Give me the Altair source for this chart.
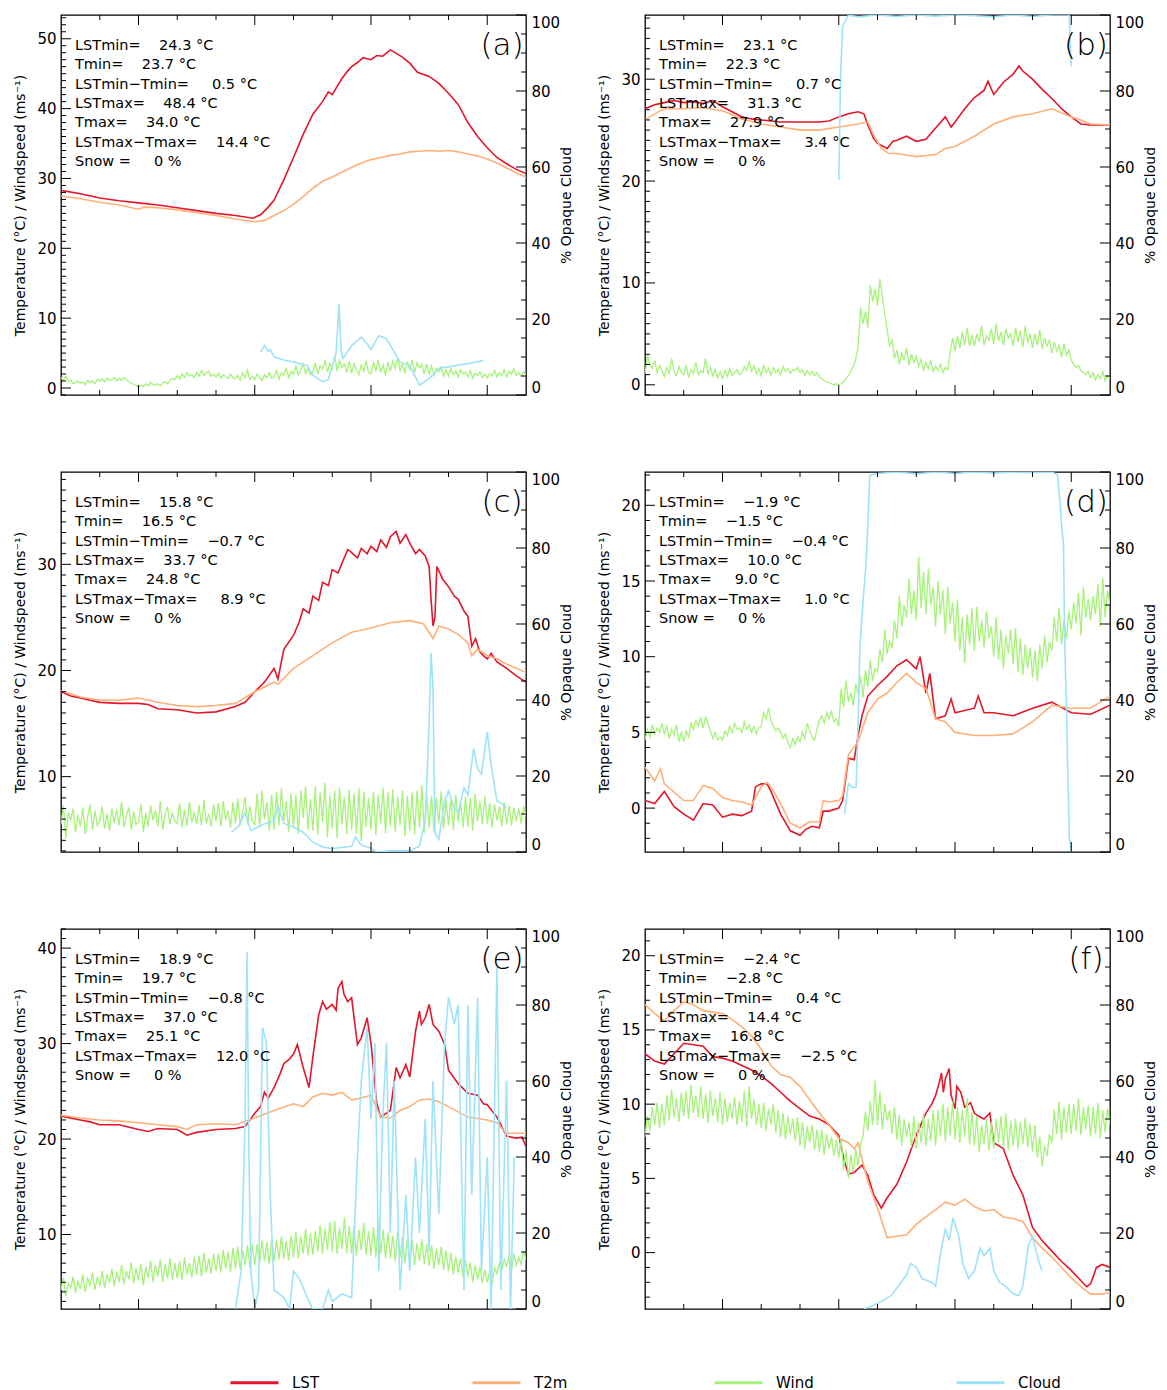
import altair as alt
import pandas as pd

# ---------------- shared axis values ----------------
X_DOMAIN = [-4, 20]
X_LABELS = [0, 6, 12, 18]
X_MINOR = [-2, 2, 4, 8, 10, 14, 16]
CLOUD_LABELS = [0, 20, 40, 60, 80, 100]
CLOUD_MINOR = [5, 10, 15, 25, 30, 35, 45, 50, 55, 65, 70, 75, 85, 90, 95]
SERIES = ["LST", "T2m", "Wind", "Cloud"]
COLORS = ["#E3162B", "#FFB077", "#A6F27A", "#9EE3FA"]
STAT_NAMES = ["LSTmin=", "Tmin=", "LSTmin\u2212Tmin=", "LSTmax=", "Tmax=", "LSTmax\u2212Tmax=", "Snow ="]

# wind is sampled every 7.5 minutes from -4 h to 20 h
WIND_T = [round(-4 + 0.125 * i, 3) for i in range(193)]

# ---------------- panel (a) ----------------
A_STATS = [24.3, 23.7, 0.5, 48.4, 34.0, 14.4, 0]
A_YDOM = [-1.0, 53.4]
A_YLABELS = [0, 10, 20, 30, 40, 50]
A_LST = [(-4, 28.3), (-3, 27.8), (-2, 27.2), (-1, 26.8), (0, 26.5), (1, 26.2), (2, 25.8), (3, 25.4), (4, 25.0),
         (5, 24.7), (5.9, 24.3), (6.3, 24.8), (6.7, 25.9), (7, 26.9), (7.5, 29.8), (8, 33.0), (8.5, 36.3),
         (9, 39.2), (9.5, 41.0), (9.8, 42.4), (10, 42.0), (10.3, 43.4), (10.5, 44.3), (10.8, 45.4), (11, 46.0),
         (11.3, 46.6), (11.6, 47.3), (12, 47.0), (12.3, 47.6), (12.6, 47.5), (13, 48.4), (13.3, 47.9),
         (13.6, 47.4), (14, 46.5), (14.4, 45.2), (15, 44.6), (15.5, 43.6), (16, 42.2), (16.5, 40.6), (17, 38.0),
         (17.5, 36.0), (18, 34.4), (18.5, 33.0), (19, 32.1), (19.5, 31.3), (20, 30.7)]
A_T2M = [(-4, 27.5), (-3, 27.1), (-2, 26.6), (-1, 26.2), (0, 25.6), (0.3, 25.9), (1, 25.8), (2, 25.5), (3, 25.1),
         (4, 24.7), (5, 24.2), (6, 23.8), (6.5, 24.0), (7, 24.7), (7.5, 25.4), (8, 26.3), (8.5, 27.4), (9, 28.6),
         (9.5, 29.6), (10, 30.2), (10.5, 30.9), (11, 31.6), (11.5, 32.2), (12, 32.7), (12.5, 33.0), (13, 33.3),
         (13.5, 33.5), (14, 33.8), (14.5, 33.9), (15, 34.0), (15.5, 33.9), (16, 34.0), (16.5, 33.8), (17, 33.5),
         (17.5, 33.2), (18, 32.8), (18.5, 32.2), (19, 31.5), (19.5, 30.8), (20, 30.2)]
A_WIND = [1.5, 1.1, 1.7, 0.9, 1.2, 0.6, 0.8, 1.0, 0.7, 0.9, 0.5, 1.1, 0.8, 1.0, 0.6, 1.2,
          1.0, 1.3, 0.9, 1.4, 1.1, 1.2, 1.5, 1.0, 1.4, 1.1, 1.5, 1.2, 0.9, 0.7, 0.5, 0.4,
          0.1, 0.4, 0.2, 0.6, 0.3, 0.8, 0.5, 0.4, 0.6, 0.3, 0.7, 0.9, 0.6, 1.1, 1.4, 1.2,
          1.8, 1.3, 2.0, 1.5, 2.2, 1.7, 1.9, 1.5, 2.2, 1.7, 2.5, 1.8, 2.1, 2.4, 1.7, 2.0,
          1.6, 2.1, 1.4, 1.9, 1.7, 1.3, 2.0, 1.5, 1.3, 1.8, 1.1, 2.2, 1.5, 2.6, 1.2, 1.7,
          1.2, 2.0, 1.4, 1.1, 1.9, 1.5, 2.2, 1.4, 1.6, 2.5, 1.3, 2.2, 1.8, 2.8, 1.5, 2.4,
          2.0, 3.1, 1.8, 2.6, 3.4, 2.1, 2.9, 1.9, 2.4, 3.6, 2.0, 3.2, 2.7, 4.0, 2.3, 3.5,
          2.8, 4.6, 2.4, 3.9, 2.9, 3.4, 2.2, 3.8, 2.1, 3.5, 2.6, 1.9, 3.3, 2.4, 3.9, 2.2,
          2.0, 3.6, 2.5, 4.0, 2.2, 3.3, 1.8, 3.7, 2.4, 3.9, 2.8, 4.3, 2.5, 3.5, 2.1, 3.8,
          2.6, 4.0, 2.2, 3.6, 2.9, 3.3, 2.0, 3.4, 2.0, 3.2, 1.8, 2.8, 2.3, 3.0, 1.7, 2.6,
          1.7, 2.8, 1.9, 2.4, 1.6, 2.6, 2.0, 2.3, 1.6, 2.5, 1.4, 2.1, 1.8, 2.3, 1.5, 2.0,
          1.4, 2.1, 1.7, 2.5, 1.6, 2.2, 1.8, 2.6, 1.6, 2.4, 2.0, 2.7, 1.8, 2.2, 1.7, 2.3,
          1.9]
A_CLOUD = [(6.3, 11.3), (6.5, 13.0), (6.7, 11.5), (6.8, 12.0), (7.0, 10.0), (7.5, 9.2), (8.0, 8.7), (8.7, 7.8),
           (9.0, 5.2), (9.5, 3.5), (9.8, 4.0), (10.0, 7.8), (10.2, 11.0), (10.35, 24.0), (10.45, 12.0),
           (10.55, 9.6), (10.8, 11.5), (11.0, 13.0), (11.5, 15.2), (11.8, 13.5), (12.0, 12.0), (12.4, 15.6),
           (12.8, 14.8), (13.2, 11.3), (13.5, 8.7), (14.0, 7.8), (14.5, 2.6), (15.0, 4.3), (15.5, 7.0),
           (16.0, 7.4), (17.0, 8.3), (17.8, 9.1)]

# ---------------- panel (b) ----------------
B_STATS = [23.1, 22.3, 0.7, 31.3, 27.9, 3.4, 0]
B_YDOM = [-1.0, 36.3]
B_YLABELS = [0, 10, 20, 30]
B_LST = [(-4, 27.1), (-3.5, 27.5), (-3, 27.7), (-2.5, 27.9), (-2, 27.7), (-1.5, 27.8), (-1, 27.6), (-0.5, 27.9),
         (0, 27.3), (0.5, 26.8), (1, 26.3), (1.5, 26.1), (2, 26.0), (3, 25.8), (4, 25.8), (5, 25.8), (5.5, 25.9),
         (6, 26.3), (6.5, 26.6), (7, 26.8), (7.3, 26.6), (7.5, 25.5), (7.8, 24.2), (8, 23.7), (8.5, 23.2),
         (8.8, 23.9), (9, 24.0), (9.5, 24.4), (10, 23.9), (10.5, 24.1), (11, 25.2), (11.5, 26.3), (11.8, 25.3),
         (12, 25.8), (12.5, 27.1), (13, 28.2), (13.5, 28.9), (13.7, 29.8), (14, 28.5), (14.5, 29.7), (15, 30.5),
         (15.3, 31.3), (15.5, 30.8), (16, 30.0), (16.5, 29.0), (17, 28.1), (17.5, 27.1), (18, 26.3),
         (18.5, 25.6), (19, 25.5), (20, 25.5)]
B_T2M = [(-4, 26.0), (-3.5, 26.6), (-3, 27.1), (-2, 27.1), (-1, 27.2), (0, 26.9), (1, 26.1), (2, 25.6), (3, 25.3),
         (4, 25.0), (5, 25.0), (6, 25.3), (7, 25.6), (7.5, 25.8), (7.8, 24.5), (8.2, 23.2), (8.6, 22.7),
         (9, 22.7), (10, 22.4), (11, 22.6), (11.5, 23.2), (12, 23.4), (13, 24.4), (14, 25.6), (15, 26.3),
         (16, 26.6), (17, 27.1), (18, 26.3), (18.5, 26.0), (19, 25.6), (20, 25.5)]
B_WIND = [1.0, 2.9, 2.0, 1.6, 2.4, 1.2, 1.9, 1.4, 0.8, 1.7, 1.1, 2.6, 1.3, 0.9, 1.8, 1.2,
          1.0, 1.9, 0.7, 1.5, 1.1, 2.2, 1.0, 1.4, 1.2, 2.6, 1.0, 1.7, 0.9, 1.5, 0.7, 1.3,
          0.6, 1.4, 0.8, 1.6, 0.9, 1.2, 1.5, 1.0, 1.1, 1.8, 1.4, 2.3, 1.3, 1.9, 1.1, 1.6,
          0.9, 1.9, 1.2, 1.6, 0.9, 1.7, 1.2, 1.5, 1.0, 1.8, 1.3, 1.6, 1.1, 1.5, 1.4, 1.7,
          1.2, 1.5, 0.9, 1.4, 1.0, 1.3, 0.9, 1.2, 0.8, 0.6, 0.4, 0.3, 0.2, 0.1, 0.0, 0.1,
          0.0, 0.1, 0.3, 0.6, 0.9, 1.3, 1.8, 2.5, 3.8, 7.6, 6.0, 7.2, 5.6, 9.8, 8.2, 9.4,
          7.8, 10.4, 8.6, 7.0, 5.4, 3.8, 4.4, 2.6, 3.4, 2.0, 3.2, 2.4, 3.6, 1.9, 3.0, 2.2,
          2.8, 1.8, 2.5, 1.4, 2.2, 1.6, 2.4, 1.3, 1.8, 1.4, 2.0, 1.2, 1.7, 1.5, 3.2, 4.6,
          3.3, 4.8, 3.6, 5.2, 3.9, 5.6, 3.8, 4.9, 3.8, 5.0, 4.2, 5.8, 3.9, 4.8, 4.4, 5.5,
          4.0, 6.0, 4.3, 5.2, 3.9, 5.5, 4.6, 5.0, 3.8, 5.6, 4.2, 5.3, 3.7, 5.8, 4.1, 5.0,
          3.6, 5.0, 3.9, 5.4, 3.5, 4.6, 3.8, 4.4, 3.1, 4.2, 3.3, 3.9, 2.7, 4.0, 2.9, 3.4,
          2.4, 2.0, 1.7, 1.9, 1.4, 1.2, 1.0, 1.3, 0.7, 1.2, 0.5, 1.0, 0.6, 1.3, 0.4, 0.9,
          0.6]
B_CLOUD = [(6.0, 56.5), (6.05, 70.0), (6.1, 85.0), (6.2, 97.0), (6.5, 100.0), (7, 99.5), (8, 100.0), (9, 99.6),
           (10, 100.0), (11, 99.7), (12, 100.0), (13, 99.8), (14, 99.5), (15, 100.0), (16, 99.6), (17, 100.0),
           (17.9, 100.0), (17.95, 92.0), (18.0, 86.5)]

# ---------------- panel (c) ----------------
C_STATS = [15.8, 16.5, -0.7, 33.7, 24.8, 8.9, 0]
C_YDOM = [2.9, 38.7]
C_YLABELS = [10, 20, 30]
C_LST = [(-4, 18.0), (-3.5, 17.6), (-3, 17.4), (-2, 17.0), (-1, 16.9), (0, 16.9), (0.5, 16.8), (1, 16.4),
         (2, 16.3), (3, 16.0), (4, 16.1), (5, 16.6), (5.5, 17.0), (6, 18.0), (6.5, 18.9), (7, 20.2), (7.2, 19.2),
         (7.5, 22.0), (8, 23.3), (8.3, 24.6), (8.5, 25.8), (8.8, 25.4), (9, 27.0), (9.3, 26.6), (9.5, 28.3),
         (9.8, 28.0), (10, 29.5), (10.3, 29.2), (10.5, 30.1), (10.8, 31.4), (11, 31.1), (11.3, 30.6),
         (11.5, 31.5), (11.8, 31.0), (12, 31.7), (12.3, 31.2), (12.5, 32.3), (12.8, 31.6), (13, 32.6),
         (13.3, 33.1), (13.5, 32.0), (13.8, 32.8), (14, 32.0), (14.3, 31.0), (14.5, 31.4), (14.8, 30.8),
         (15.0, 29.8), (15.1, 26.7), (15.2, 24.2), (15.3, 25.0), (15.4, 29.8), (15.7, 28.6), (16, 27.9),
         (16.3, 27.0), (16.5, 26.7), (16.8, 25.6), (17, 25.1), (17.2, 22.3), (17.4, 23.0), (17.6, 21.8),
         (17.8, 21.4), (18, 21.1), (18.2, 21.6), (18.5, 20.8), (19, 20.2), (19.5, 19.5), (20, 18.9)]
C_T2M = [(-4, 18.1), (-3, 17.5), (-2, 17.2), (-1, 17.2), (0, 17.4), (1, 17.0), (2, 16.7), (3, 16.6), (4, 16.7),
         (5, 16.9), (6, 18.0), (7, 18.9), (7.2, 18.7), (8, 20.2), (9, 21.4), (10, 22.6), (11, 23.6), (12, 24.0),
         (13, 24.5), (14, 24.7), (14.7, 24.4), (15, 23.6), (15.2, 23.0), (15.5, 24.2), (16, 23.9), (16.5, 23.4),
         (17, 22.6), (17.2, 21.4), (17.5, 22.0), (18, 21.4), (18.5, 21.1), (19, 20.6), (20, 19.8)]
C_WIND = [5.5, 7.3, 4.2, 6.6, 5.9, 7.0, 4.8, 6.4, 5.3, 7.1, 4.6, 6.2, 7.4, 5.0, 6.8, 5.4,
          5.8, 7.2, 5.1, 6.5, 4.9, 7.0, 5.6, 6.9, 5.4, 7.6, 5.2, 6.3, 7.1, 5.0, 6.7, 5.5,
          5.7, 7.4, 4.8, 6.6, 5.3, 7.3, 5.9, 6.8, 5.3, 7.7, 5.0, 6.4, 7.2, 5.5, 6.6, 5.8,
          5.6, 7.5, 5.2, 6.9, 5.4, 7.6, 5.7, 6.7, 5.5, 7.3, 5.4, 7.8, 5.6, 6.5, 5.3, 7.4,
          5.8, 7.5, 5.3, 7.7, 5.9, 6.8, 5.2, 7.6, 5.6, 7.9, 5.4, 6.7, 8.1, 5.5, 7.2, 5.8,
          5.5, 8.4, 5.2, 8.7, 6.0, 7.6, 4.9, 8.3, 5.0, 8.6, 5.4, 8.9, 5.8, 7.7, 4.8, 8.4,
          5.2, 8.3, 4.6, 8.7, 6.1, 9.1, 5.0, 7.9, 4.9, 9.1, 4.5, 8.5, 5.7, 9.4, 4.3, 8.2,
          5.1, 8.7, 4.2, 9.0, 5.5, 8.1, 4.6, 8.8, 5.0, 8.4, 4.6, 8.9, 3.9, 8.6, 5.3, 8.0,
          5.0, 8.6, 4.5, 8.3, 5.6, 9.0, 4.7, 8.5, 5.3, 8.8, 4.8, 8.1, 5.4, 8.7, 4.4, 8.2,
          4.9, 8.5, 4.5, 8.7, 5.2, 9.2, 4.7, 8.3, 5.2, 8.2, 4.8, 8.0, 5.6, 8.6, 5.1, 7.8,
          5.4, 7.9, 5.0, 8.3, 5.7, 7.6, 5.2, 8.1, 5.3, 8.0, 4.9, 8.4, 5.8, 7.7, 5.5, 8.2,
          5.6, 7.5, 5.2, 7.4, 5.9, 7.2, 5.3, 7.6, 5.5, 7.3, 5.4, 7.1, 5.8, 7.0, 5.6, 7.2,
          6.3]
C_CLOUD = [(4.8, 5.2), (5.2, 7.0), (5.5, 10.4), (5.8, 5.6), (6.5, 7.4), (7.0, 8.2), (7.2, 12.0), (7.5, 7.5),
           (8.0, 6.5), (8.5, 5.2), (9.0, 2.6), (9.5, 1.3), (10.0, 0.9), (11.0, 1.5), (11.2, 3.9), (11.5, 1.8),
           (12.0, 1.0), (12.3, 0.0), (13.0, 0.3), (14.0, 0.3), (14.5, 1.5), (14.8, 8.2), (15.0, 34.0),
           (15.1, 52.4), (15.2, 43.0), (15.3, 5.0), (15.5, 3.3), (15.8, 13.4), (16.0, 16.0), (16.3, 11.5),
           (16.5, 10.5), (16.8, 16.9), (17.0, 15.0), (17.3, 27.3), (17.5, 22.0), (17.7, 20.5), (18.0, 31.6),
           (18.2, 23.0), (18.5, 13.4), (18.8, 12.6), (19.0, 11.7)]

# ---------------- panel (d) ----------------
D_STATS = [-1.9, -1.5, -0.4, 10.0, 9.0, 1.0, 0]
D_YDOM = [-2.9, 22.2]
D_YLABELS = [0, 5, 10, 15, 20]
D_LST = [(-4, 0.5), (-3.5, 0.3), (-3, 1.1), (-2.5, 0.1), (-2, -0.4), (-1.5, -0.8), (-1, 0.3), (-0.5, 0.2),
         (0, -0.6), (0.5, -0.4), (1, -0.5), (1.5, -0.2), (1.7, 1.4), (2, 1.6), (2.3, 1.6), (2.5, 1.1), (3, -0.4),
         (3.5, -1.5), (4, -1.8), (4.3, -1.4), (4.6, -1.2), (5, -1.3), (5.2, -0.2), (5.5, -0.2), (6, 0.0),
         (6.2, 0.5), (6.5, 3.3), (6.8, 3.2), (7, 4.8), (7.2, 6.1), (7.5, 7.4), (8, 8.1), (8.5, 8.7), (9, 9.4),
         (9.5, 9.8), (10, 9.2), (10.2, 10.0), (10.5, 7.6), (10.7, 8.9), (11, 5.9), (11.5, 6.1), (11.8, 7.2),
         (12, 6.3), (13, 6.6), (13.2, 7.4), (13.5, 6.3), (14, 6.3), (15, 6.1), (16, 6.6), (17, 7.0), (18, 6.3),
         (19, 6.2), (20, 6.8)]
D_T2M = [(-4, 2.7), (-3.5, 1.8), (-3.2, 2.6), (-3, 1.6), (-2, 0.5), (-1.5, 0.5), (-1, 1.5), (-0.5, 1.3), (0, 0.7),
         (0.5, 0.5), (1, 0.4), (1.5, 0.2), (2, 1.4), (2.3, 1.7), (2.5, 1.4), (3, 0.3), (3.5, -1.0), (4, -1.3),
         (4.5, -0.9), (5, -0.9), (5.2, 0.5), (5.5, 0.4), (6, 0.5), (6.2, 0.8), (6.5, 3.5), (7, 4.4), (7.5, 6.3),
         (8, 7.2), (8.5, 7.6), (9, 8.3), (9.5, 8.9), (10, 8.3), (10.5, 7.9), (11, 5.9), (11.5, 5.7), (12, 5.0),
         (13, 4.8), (14, 4.8), (15, 4.9), (16, 5.7), (17, 6.8), (18, 6.6), (19, 6.6), (20, 7.4)]
D_WIND = [4.5, 5.2, 4.7, 5.5, 4.9, 5.3, 5.0, 5.6, 4.9, 5.4, 4.6, 5.2, 4.8, 5.5, 4.4, 5.0,
          4.4, 5.1, 4.7, 5.6, 5.2, 5.8, 5.4, 6.0, 5.3, 6.0, 5.6, 5.1, 4.6, 5.0, 4.5, 4.7,
          4.5, 5.1, 4.8, 5.4, 5.0, 5.6, 5.2, 5.3, 5.0, 5.7, 5.2, 5.5, 5.0, 5.4, 4.9, 5.3,
          5.4, 6.3, 5.9, 6.6, 5.8, 5.4, 5.1, 5.3, 5.0, 4.6, 4.9, 4.3, 4.0, 4.6, 4.2, 4.7,
          4.4, 5.0, 4.6, 5.6, 5.1, 4.7, 4.5, 5.2, 5.8, 6.1, 5.6, 6.3, 5.9, 6.4, 5.7, 5.9,
          5.4, 7.9, 6.7, 8.4, 7.0, 7.6, 6.8, 8.2, 7.5, 8.7, 7.3, 9.1, 8.0, 9.8, 8.4, 9.2,
          9.0, 10.5, 9.6, 11.8, 10.2, 11.0, 10.6, 12.4, 11.2, 14.0, 12.0, 13.4, 12.6, 15.2, 12.8, 14.4,
          12.4, 16.6, 13.2, 15.6, 12.8, 15.8, 13.4, 14.6, 12.0, 15.0, 12.8, 14.4, 11.5, 14.6, 12.2, 13.6,
          11.0, 13.8, 10.4, 12.6, 9.6, 12.8, 10.8, 13.2, 10.4, 13.3, 11.0, 12.4, 10.6, 13.0, 11.2, 12.0,
          10.0, 12.6, 9.8, 11.8, 9.2, 11.4, 10.2, 11.8, 9.5, 11.9, 9.0, 11.2, 8.8, 10.8, 9.2, 10.6,
          8.6, 10.4, 8.4, 10.8, 9.2, 11.4, 9.6, 11.0, 10.4, 12.6, 11.0, 13.2, 10.8, 12.4, 11.2, 13.0,
          11.8, 13.6, 12.2, 14.2, 11.4, 14.6, 12.6, 13.8, 12.4, 14.0, 12.8, 14.8, 12.0, 15.2, 12.6, 14.4,
          13.4]
D_CLOUD = [(6.3, 10.0), (6.5, 18.0), (6.7, 17.0), (6.9, 17.0), (7.0, 34.6), (7.1, 55.0), (7.3, 69.0), (7.4, 75.0),
           (7.5, 86.0), (7.6, 99.1), (8, 99.6), (9, 100.0), (10, 99.5), (11, 100.0), (12, 99.6), (13, 100.0),
           (14, 99.7), (15, 100.0), (16, 99.8), (17, 100.0), (17.2, 99.5), (17.3, 99.0), (17.45, 90.0),
           (17.5, 86.0), (17.6, 81.0), (17.65, 60.0), (17.7, 47.0), (17.75, 40.0), (17.8, 26.0), (17.9, 4.0),
           (18.0, 0.0)]

# ---------------- panel (e) ----------------
E_STATS = [18.9, 19.7, -0.8, 37.0, 25.1, 12.0, 0]
E_YDOM = [2.2, 42.0]
E_YLABELS = [10, 20, 30, 40]
E_LST = [(-4, 22.4), (-3, 22.0), (-2.5, 21.8), (-2, 21.5), (-1, 21.5), (0, 21.0), (0.5, 20.8), (1, 21.1), (2, 21.0),
         (2.5, 20.4), (3, 20.7), (4, 21.0), (5, 21.1), (5.5, 21.3), (6, 22.7), (6.3, 23.4), (6.5, 24.9),
         (6.7, 24.3), (7, 25.4), (7.3, 26.8), (7.5, 27.9), (7.8, 28.4), (8, 28.9), (8.2, 29.9), (8.5, 27.5),
         (8.8, 25.4), (9, 28.6), (9.3, 33.0), (9.5, 34.4), (9.7, 33.6), (10, 34.1), (10.2, 33.5), (10.3, 35.8),
         (10.5, 36.5), (10.6, 35.2), (10.8, 34.4), (11, 34.8), (11.2, 31.5), (11.3, 29.9), (11.5, 30.6),
         (11.8, 32.7), (12, 30.0), (12.3, 23.7), (12.5, 22.3), (13, 23.0), (13.2, 26.0), (13.3, 27.5),
         (13.5, 26.4), (13.8, 27.8), (14, 26.5), (14.3, 31.3), (14.5, 33.4), (14.6, 32.0), (14.8, 32.7),
         (15, 34.1), (15.2, 32.0), (15.5, 31.3), (15.8, 29.9), (16, 27.2), (16.5, 25.8), (17, 24.8),
         (17.5, 24.6), (17.8, 23.7), (18, 23.6), (18.5, 22.3), (19, 20.3), (19.5, 20.1), (19.8, 20.2),
         (20, 19.2)]
E_T2M = [(-4, 22.5), (-3, 22.2), (-2, 22.0), (-1, 21.9), (0, 21.7), (1, 21.5), (2, 21.3), (2.5, 21.0), (3, 21.5),
         (4, 21.6), (5, 21.5), (6, 22.2), (7, 23.0), (8, 23.7), (8.5, 23.4), (9, 24.4), (9.5, 24.8), (10, 24.6),
         (10.5, 24.9), (11, 24.1), (11.5, 24.3), (12, 24.6), (12.5, 22.3), (13, 22.2), (13.5, 23.0), (14, 23.4),
         (14.5, 24.1), (15, 24.2), (15.5, 23.9), (16, 23.4), (17, 22.3), (18, 22.0), (18.5, 21.7), (19, 20.6),
         (20, 20.6)]
E_WIND = [4.2, 5.5, 3.5, 4.9, 4.4, 5.6, 3.9, 5.2, 4.3, 5.8, 4.0, 5.4, 4.7, 6.0, 4.2, 5.6,
          4.6, 6.2, 4.4, 5.8, 5.0, 6.4, 4.6, 6.1, 5.0, 6.8, 4.8, 6.2, 5.3, 7.1, 4.9, 6.5,
          5.2, 6.9, 4.7, 6.6, 5.5, 7.3, 5.0, 6.8, 5.6, 7.4, 5.0, 6.9, 5.4, 7.5, 5.2, 7.0,
          5.4, 7.2, 5.2, 7.6, 5.8, 7.0, 5.5, 7.7, 5.8, 7.8, 5.6, 8.1, 6.0, 7.5, 5.9, 8.0,
          6.2, 8.0, 6.0, 8.4, 6.4, 8.2, 6.1, 8.6, 6.4, 8.7, 6.3, 8.4, 6.8, 8.9, 6.5, 9.0,
          6.8, 9.0, 7.0, 9.4, 7.2, 9.2, 6.9, 9.5, 7.2, 9.5, 7.4, 9.8, 7.5, 9.3, 7.3, 9.9,
          7.6, 10.3, 7.5, 9.8, 8.0, 10.6, 7.8, 10.1, 7.9, 10.4, 8.2, 11.0, 8.0, 10.6, 8.4, 11.3,
          8.2, 11.4, 8.0, 10.7, 8.5, 11.8, 8.1, 10.9, 8.0, 10.9, 7.8, 10.5, 8.3, 11.2, 7.9, 10.4,
          7.8, 10.8, 7.6, 11.4, 8.0, 10.5, 7.5, 10.2, 7.5, 9.9, 7.2, 10.4, 7.6, 9.7, 7.0, 9.5,
          7.0, 9.4, 6.8, 9.1, 7.2, 9.5, 6.9, 9.0, 6.7, 8.9, 6.4, 8.5, 6.8, 8.7, 6.3, 8.3,
          6.2, 8.1, 5.8, 7.7, 6.0, 7.5, 5.6, 7.3, 5.6, 7.1, 5.0, 6.8, 5.3, 6.6, 4.9, 6.3,
          5.0, 6.1, 4.8, 6.5, 5.9, 7.0, 6.4, 7.4, 6.6, 7.9, 6.3, 8.0, 6.8, 7.6, 6.9, 8.2,
          7.4]
E_CLOUD = [(5.0, 0), (5.3, 10), (5.5, 50), (5.6, 94), (5.7, 40), (5.8, 10), (6.0, 0), (6.2, 5), (6.4, 74),
           (6.6, 70), (6.8, 30), (7.0, 5), (7.5, 3), (7.8, 0), (8.0, 10), (8.3, 8), (8.8, 2), (9.0, 0), (9.5, 0),
           (9.8, 5), (10.0, 2), (10.5, 4), (11.0, 3), (11.3, 40), (11.5, 60), (11.8, 74), (12.0, 50), (12.2, 70),
           (12.4, 10), (12.6, 50), (12.8, 70), (13.0, 20), (13.2, 60), (13.5, 5), (13.8, 30), (14.0, 10),
           (14.3, 40), (14.5, 20), (14.8, 50), (15.0, 15), (15.2, 60), (15.5, 25), (15.8, 70), (16.0, 82),
           (16.3, 75), (16.5, 80), (16.8, 5), (17.0, 80), (17.2, 30), (17.5, 82), (17.7, 10), (18.0, 40),
           (18.2, 0), (18.5, 90), (18.7, 5), (19.0, 60), (19.2, 0), (19.4, 40)]

# ---------------- panel (f) ----------------
F_STATS = [-2.4, -2.8, 0.4, 14.4, 16.8, -2.5, 0]
F_YDOM = [-3.8, 21.8]
F_YLABELS = [0, 5, 10, 15, 20]
F_LST = [(-4, 13.4), (-3.5, 12.9), (-3, 12.7), (-2.5, 13.4), (-2, 14.1), (-1.5, 14.0), (-1, 13.9), (-0.5, 13.2),
         (0, 13.1), (0.5, 12.9), (1, 12.6), (1.5, 12.3), (2, 11.9), (2.5, 11.4), (3, 10.8), (3.5, 10.2), (4, 9.7),
         (4.5, 9.2), (5, 9.0), (5.5, 8.6), (6, 7.9), (6.3, 6.1), (6.5, 5.3), (6.8, 5.4), (7.2, 5.9), (7.5, 5.2),
         (7.8, 3.9), (8.2, 3.0), (8.5, 3.7), (9, 4.6), (9.5, 6.1), (10, 7.9), (10.5, 9.4), (10.8, 10.0),
         (11, 10.6), (11.2, 11.5), (11.3, 12.1), (11.4, 10.8), (11.5, 11.7), (11.7, 12.4), (11.8, 10.6),
         (12, 9.7), (12.1, 11.2), (12.3, 10.8), (12.5, 9.8), (12.8, 10.1), (13, 9.4), (13.2, 9.2), (13.5, 9.0),
         (13.8, 9.4), (14, 7.4), (14.5, 7.0), (15, 5.2), (15.5, 3.9), (16, 1.7), (16.5, 0.8), (17, 0.1),
         (17.5, -0.6), (18, -1.2), (18.5, -1.9), (18.8, -2.3), (19, -2.1), (19.3, -1.0), (19.6, -0.8),
         (20, -1.0)]
F_T2M = [(-4, 16.7), (-3.5, 16.1), (-3, 15.6), (-2.5, 16.3), (-2, 16.9), (-1.5, 16.7), (-1, 16.3), (0, 16.1),
         (0.5, 15.7), (1, 15.2), (1.5, 14.6), (2, 13.7), (2.5, 12.6), (3, 12.0), (3.5, 11.8), (4, 11.2),
         (4.5, 10.3), (5, 9.4), (5.5, 8.6), (6, 7.7), (6.5, 7.4), (6.8, 7.0), (7.0, 7.4), (7.2, 6.3), (7.5, 4.8),
         (8, 3.0), (8.5, 1.0), (9, 1.1), (9.5, 1.2), (10, 1.9), (10.5, 2.4), (11, 2.9), (11.5, 3.4), (12, 3.2),
         (12.5, 3.6), (13, 3.1), (13.5, 2.8), (14, 2.9), (14.5, 2.4), (15, 2.3), (15.5, 2.1), (16, 1.0),
         (16.5, 0.3), (17, -0.3), (17.5, -1.0), (18, -1.7), (18.5, -2.3), (19, -2.8), (19.5, -2.8), (20, -2.7)]
F_WIND = [7.8, 9.2, 8.2, 9.8, 8.6, 10.1, 8.4, 10.0, 8.6, 10.6, 8.9, 11.0, 9.1, 10.4, 8.8, 10.8,
          9.2, 10.9, 9.0, 11.3, 9.4, 10.6, 9.1, 11.2, 9.0, 10.7, 8.7, 10.9, 9.2, 10.4, 8.8, 10.8,
          8.6, 10.4, 8.8, 10.1, 9.0, 10.5, 8.6, 10.2, 8.8, 10.9, 8.5, 11.2, 9.0, 10.3, 8.6, 10.0,
          8.4, 10.1, 8.2, 9.7, 8.6, 10.0, 8.1, 9.6, 7.8, 9.4, 7.6, 9.2, 8.0, 9.0, 7.5, 9.1,
          7.2, 8.8, 7.0, 8.5, 7.4, 8.6, 6.9, 8.3, 6.8, 8.3, 6.6, 8.0, 7.0, 7.8, 6.5, 7.6,
          6.4, 7.7, 5.6, 6.9, 5.0, 6.6, 5.4, 7.0, 5.8, 7.3, 7.8, 9.5, 8.2, 10.2, 8.6, 11.6,
          8.6, 10.8, 8.3, 10.0, 8.9, 9.6, 8.0, 9.8, 7.6, 9.3, 7.2, 9.0, 7.8, 8.8, 7.1, 9.2,
          7.0, 8.8, 7.4, 9.4, 7.2, 9.0, 7.5, 9.6, 7.2, 9.6, 7.8, 10.0, 7.5, 9.8, 7.9, 10.2,
          7.6, 9.8, 7.4, 9.6, 7.8, 10.4, 7.3, 9.5, 7.2, 9.2, 6.8, 8.6, 7.3, 9.0, 6.9, 8.8,
          7.0, 9.0, 7.4, 9.2, 7.1, 9.4, 6.9, 8.9, 7.2, 9.0, 7.0, 8.8, 7.3, 9.1, 7.1, 8.7,
          6.8, 8.6, 6.4, 7.8, 5.8, 7.2, 6.5, 8.0, 7.4, 9.6, 8.0, 10.2, 7.6, 9.8, 8.1, 10.0,
          8.0, 10.0, 8.2, 10.4, 7.9, 9.8, 8.3, 9.9, 7.8, 9.8, 8.0, 10.1, 7.7, 9.6, 8.1, 9.7,
          8.6]
F_CLOUD = [(7.3, 0.0), (7.8, 1.0), (8.2, 2.0), (8.7, 3.5), (9.0, 5.5), (9.5, 9.0), (9.7, 12.0), (10.0, 11.0),
           (10.3, 8.0), (10.8, 7.0), (11.0, 6.0), (11.3, 16.0), (11.5, 21.0), (11.7, 18.0), (11.9, 24.0),
           (12.2, 19.0), (12.4, 12.0), (12.7, 8.0), (13.0, 10.0), (13.3, 16.0), (13.5, 14.0), (13.8, 16.0),
           (14.0, 10.0), (14.3, 7.0), (14.6, 6.0), (15.0, 4.0), (15.3, 3.5), (15.5, 6.0), (15.8, 17.0),
           (16.0, 19.0), (16.3, 13.0), (16.5, 10.0)]

# ---------------- chart construction ----------------
W, H = 465, 380
FONT = "DejaVu Sans"
NB = "\u00a0"

LEGEND = alt.Legend(orient="none", legendX=168, legendY=1342, direction="horizontal", columns=4,
                    gridAlign="all", columnPadding=131, symbolType="stroke", symbolSize=2304,
                    symbolStrokeWidth=3, labelFontSize=15, labelOffset=12, labelFont=FONT,
                    labelColor="black", title=None)
COLOR = alt.Color("series:N", scale=alt.Scale(domain=SERIES, range=COLORS), legend=LEGEND)


def pairs_df(pairs, name):
    return pd.DataFrame({"t": [p[0] for p in pairs], "v": [p[1] for p in pairs], "series": name})


def stat_lines(stats):
    out = []
    for name, val in zip(STAT_NAMES[:6], stats[:6]):
        num = f"{val:6.1f}".replace("-", "\u2212").replace(" ", NB)
        out.append(name + NB * 2 + num + NB + "\u00b0C")
    out.append(STAT_NAMES[6] + NB * 2 + f"{stats[6]:4d}".replace(" ", NB) + NB + "%")
    return out


def panel(letter, lst, t2m, wind, cloud, ydom, ylabels, stats):
    xs = alt.Scale(domain=X_DOMAIN, nice=False, zero=False)
    ys = alt.Scale(domain=ydom, nice=False, zero=False)
    cs = alt.Scale(domain=[0, 100], nice=False, zero=False)
    x_axis = alt.Axis(values=X_LABELS, title="Local Time (hours)", labelPadding=11, titlePadding=3,
                      format="d", ticks=False, tickSize=0, domain=False, grid=False)
    y_axis = alt.Axis(values=ylabels, title="Temperature (\u00b0C) / Windspeed (ms\u207b\u00b9)", orient="left",
                      labelPadding=5, titlePadding=9, format="d", ticks=False, tickSize=0, domain=False,
                      grid=False)
    c_axis = alt.Axis(values=CLOUD_LABELS, title="% Opaque Cloud", orient="right", labelPadding=5,
                      titlePadding=14, titleAngle=270, format="d", ticks=False, tickSize=0, domain=False,
                      grid=False, labelFlush=True)

    def line(df, axis_x=None, axis_y=None, scale=ys, sw=1.6):
        return alt.Chart(df).mark_line(strokeWidth=sw, clip=True).encode(
            x=alt.X("t:Q", scale=xs, axis=axis_x),
            y=alt.Y("v:Q", scale=scale, axis=axis_y),
            color=COLOR,
        )

    wind_df = pd.DataFrame({"t": WIND_T, "v": wind, "series": "Wind"})
    l_lst = line(pairs_df(lst, "LST"), x_axis, y_axis)
    l_t2m = line(pairs_df(t2m, "T2m"))
    l_wind = line(wind_df, sw=1.3)
    l_cloud = line(pairs_df(cloud, "Cloud"), None, c_axis, cs)

    lo, hi = ydom
    ymin = [v for v in range(int(lo) - 1, int(hi) + 2) if lo <= v <= hi and v not in ylabels]

    def yt(vals, scale, x1, x2):
        return alt.Chart(pd.DataFrame({"v": vals})).mark_rule(color="black", strokeWidth=1).encode(
            y=alt.Y("v:Q", scale=scale, axis=None), x=alt.value(x1), x2=alt.value(x2))

    def xt(vals, y1, y2):
        return alt.Chart(pd.DataFrame({"v": vals})).mark_rule(color="black", strokeWidth=1).encode(
            x=alt.X("v:Q", scale=xs, axis=None), y=alt.value(y1), y2=alt.value(y2))

    ticks = [
        yt(ylabels, ys, 0, 10), yt(ymin, ys, 0, 5),
        yt(CLOUD_LABELS, cs, W, W - 10), yt(CLOUD_MINOR, cs, W, W - 5),
        xt(X_LABELS, H, H - 10), xt(X_MINOR, H, H - 5),
        xt(X_LABELS, 0, 10), xt(X_MINOR, 0, 5),
    ]

    one = pd.DataFrame({"k": [0]})
    txt = alt.Chart(one).mark_text(text=stat_lines(stats), align="left", baseline="top", fontSize=14.5,
                                   lineHeight=19.3, font=FONT, color="black").encode(
        x=alt.value(14), y=alt.value(24))
    lab = alt.Chart(one).mark_text(text=f"({letter})", align="center", baseline="middle", fontSize=31,
                                   font=FONT, fontWeight=300, color="black").encode(
        x=alt.value(W - 24), y=alt.value(31))

    return alt.layer(l_lst, l_t2m, l_wind, l_cloud, *ticks, txt, lab).resolve_scale(
        y="independent").properties(width=W, height=H)


pa = panel("a", A_LST, A_T2M, A_WIND, A_CLOUD, A_YDOM, A_YLABELS, A_STATS)
pb = panel("b", B_LST, B_T2M, B_WIND, B_CLOUD, B_YDOM, B_YLABELS, B_STATS)
pc = panel("c", C_LST, C_T2M, C_WIND, C_CLOUD, C_YDOM, C_YLABELS, C_STATS)
pd_ = panel("d", D_LST, D_T2M, D_WIND, D_CLOUD, D_YDOM, D_YLABELS, D_STATS)
pe = panel("e", E_LST, E_T2M, E_WIND, E_CLOUD, E_YDOM, E_YLABELS, E_STATS)
pf = panel("f", F_LST, F_T2M, F_WIND, F_CLOUD, F_YDOM, F_YLABELS, F_STATS)

chart = alt.concat(pa, pb, pc, pd_, pe, pf, columns=2, spacing={"row": 77, "column": 119},
                   bounds="flush").properties(
    padding={"left": 5, "top": 5, "right": 0, "bottom": 0}
).configure(font=FONT).configure_view(stroke="black", strokeWidth=1.3).configure_axis(
    labelFontSize=15, titleFontSize=14, labelColor="black", titleColor="black", titleFontWeight="normal",
    labelFont=FONT, titleFont=FONT)

chart.save("out.html", embed_options={"renderer": "svg", "actions": False})
